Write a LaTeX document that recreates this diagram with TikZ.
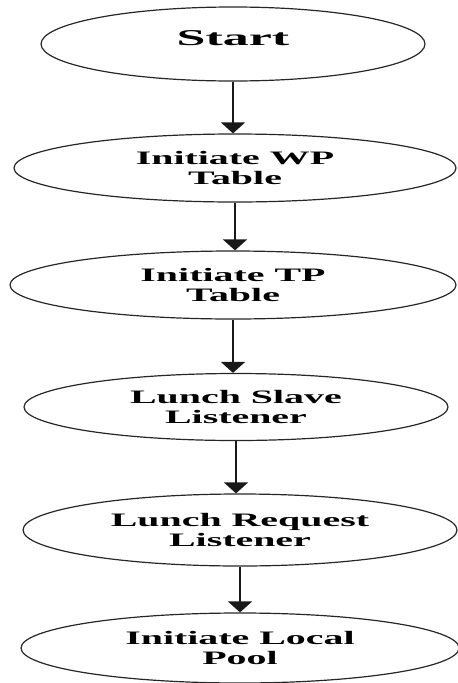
\documentclass[tikz,border=0pt]{standalone}
\usepackage{fontspec}
\newfontfamily\lblfont{Liberation Serif}[FakeStretch=2.1]
\newfontfamily\startfont{Liberation Serif}[FakeStretch=2.3]
\usetikzlibrary{shapes.geometric,arrows.meta}
\tikzset{
  stage/.style={draw=black!85, line width=1.2pt, ellipse, inner sep=0pt,
    align=center, text=black,
    font=\lblfont\bfseries\fontsize{19}{19.5}\selectfont},
  flow/.style={line width=1.8pt, draw=black!90,
    -{Triangle[width=24pt,length=11pt]}}
}
\begin{document}
\begin{tikzpicture}[x=1pt,y=-1pt]
\useasboundingbox (0,0) rectangle (458,683);
\node[stage, minimum width=384pt, minimum height=74pt,
      font=\startfont\bfseries\fontsize{22.6}{20}\selectfont] (n1) at (233,44) {\raisebox{11pt}{Start}};
\node[stage, minimum width=442pt, minimum height=68pt] (n2) at (235,168) {Initiate WP\\Table};
\node[stage, minimum width=446pt, minimum height=68pt] (n3) at (233,285) {Initiate TP\\Table};
\node[stage, minimum width=424pt, minimum height=67pt] (n4) at (236,407) {Lunch Slave\\Listener};
\node[stage, minimum width=434pt, minimum height=72pt] (n5) at (240,530) {Lunch Request\\Listener};
\node[stage, minimum width=438pt, minimum height=70pt] (n6) at (240,648) {Initiate Local\\Pool};
\draw[flow] (n1.south) -- (n1.south |- n2.north);
\draw[flow] (n2.south) -- (n2.south |- n3.north);
\draw[flow] (n3.south) -- (n3.south |- n4.north);
\draw[flow] (n4.south) -- (n4.south |- n5.north);
\draw[flow] (n5.south) -- (n5.south |- n6.north);
\end{tikzpicture}
\end{document}
